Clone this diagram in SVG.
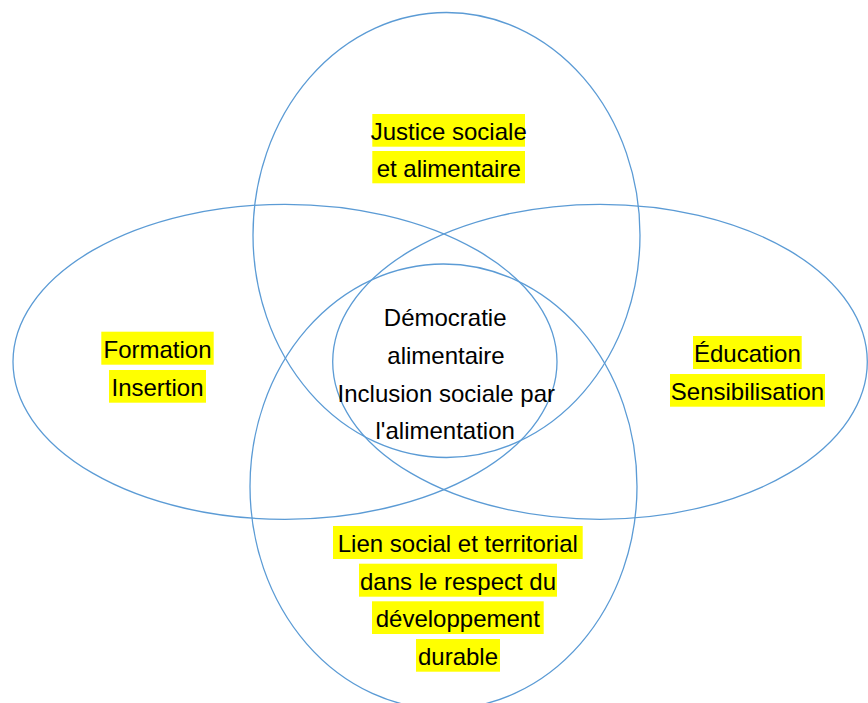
<svg xmlns="http://www.w3.org/2000/svg" width="868" height="703" viewBox="0 0 868 703">
<style>
.ring{fill:none;stroke:#5B9BD5;stroke-width:1.3}
.hl{fill:#FFFF00}
.t{font-family:"Liberation Sans",Arial,sans-serif;font-size:24px;fill:#000;text-anchor:middle}
</style>
<rect width="868" height="703" fill="#fff"/>
<g id="justice">
<ellipse class="ring" cx="446.5" cy="235" rx="193.5" ry="222.5"/>
<rect class="hl" x="372.3" y="114" width="152.7" height="32.7"/>
<rect class="hl" x="372.3" y="151" width="152.7" height="32.3"/>
<text class="t" x="448.7" y="139.5">Justice sociale</text>
<text class="t" x="448.7" y="176.5">et alimentaire</text>
</g>
<g id="formation">
<ellipse class="ring" cx="285" cy="361.8" rx="272" ry="157.5"/>
<rect class="hl" x="101.3" y="331.7" width="112.4" height="33"/>
<rect class="hl" x="109" y="370" width="97" height="32.7"/>
<text class="t" x="157.5" y="357.5">Formation</text>
<text class="t" x="157.5" y="395.5">Insertion</text>
</g>
<g id="education">
<ellipse class="ring" cx="600" cy="361.8" rx="267.3" ry="157.5"/>
<rect class="hl" x="693" y="336" width="108.7" height="33"/>
<rect class="hl" x="670" y="374" width="155" height="32.7"/>
<text class="t" x="747.4" y="362">Éducation</text>
<text class="t" x="747.5" y="399.5">Sensibilisation</text>
</g>
<g id="lien">
<ellipse class="ring" cx="443.5" cy="486.5" rx="193.5" ry="222.5"/>
<rect class="hl" x="333" y="526" width="249.7" height="33"/>
<rect class="hl" x="359" y="563.7" width="198" height="33"/>
<rect class="hl" x="372" y="601.3" width="171.7" height="32.7"/>
<rect class="hl" x="416" y="639" width="84" height="32.7"/>
<text class="t" x="457.8" y="552">Lien social et territorial</text>
<text class="t" x="458" y="589.5">dans le respect du</text>
<text class="t" x="457.8" y="627">développement</text>
<text class="t" x="458" y="664.5">durable</text>
</g>
<g id="democratie">
<text class="t" x="445.2" y="326">Démocratie</text>
<text class="t" x="446" y="364">alimentaire</text>
<text class="t" x="446.3" y="401.5">Inclusion sociale par</text>
<text class="t" x="445.2" y="439">l'alimentation</text>
</g>
<g id="connectors"/>
</svg>
